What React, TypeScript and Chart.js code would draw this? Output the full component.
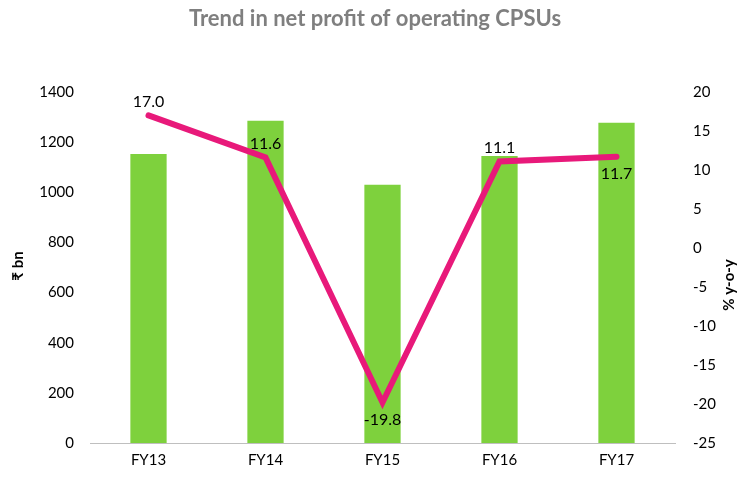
import React, { useEffect, useRef } from "react";
import { Chart, registerables } from "chart.js";

Chart.register(...registerables);

const categories = ["FY13", "FY14", "FY15", "FY16", "FY17"];
const netProfit = [1153, 1285, 1030, 1145, 1277];
const yoyGrowth = [17.0, 11.6, -19.8, 11.1, 11.7];
const yoyLabelPos = ["above", "above", "below", "above", "below"];

const FONT = "Lato, 'Open Sans', sans-serif";

const overlayPlugin = {
  id: "overlay",
  afterDraw(chart: any) {
    const ctx = chart.ctx;
    ctx.save();
    // title
    ctx.fillStyle = "#7f7f7f";
    ctx.font = `bold 22px ${FONT}`;
    ctx.textAlign = "center";
    ctx.textBaseline = "middle";
    ctx.fillText("Trend in net profit of operating CPSUs", 375, 19);
    // axis titles
    ctx.fillStyle = "#000";
    ctx.font = `bold 15px ${FONT}`;
    ctx.save();
    ctx.translate(18, 266);
    ctx.rotate(-Math.PI / 2);
    ctx.fillText("₹ bn", 0, 0);
    ctx.restore();
    ctx.save();
    ctx.translate(729, 285);
    ctx.rotate(-Math.PI / 2);
    ctx.fillText("% y-o-y", 0, 0);
    ctx.restore();
    // data labels
    const meta = chart.getDatasetMeta(1);
    ctx.font = `16px ${FONT}`;
    ctx.fillStyle = "#000";
    meta.data.forEach((pt: any, i: number) => {
      const v = yoyGrowth[i];
      const dy = yoyLabelPos[i] === "above" ? -14 : 17;
      ctx.fillText(v.toFixed(1), pt.x, pt.y + dy);
    });
    ctx.restore();
  },
};

export default function App() {
  const ref = useRef<HTMLCanvasElement>(null);
  useEffect(() => {
    document.body.style.margin = "0";
    const chart = new Chart(ref.current!, {
      type: "bar",
      data: {
        labels: categories,
        datasets: [
          {
            type: "bar",
            label: "Net profit",
            data: netProfit,
            backgroundColor: "#7ED13D",
            yAxisID: "y",
            barPercentage: 0.31,
            categoryPercentage: 1,
            order: 2,
          },
          {
            type: "line",
            label: "% y-o-y",
            data: yoyGrowth,
            borderColor: "#E8197A",
            backgroundColor: "#E8197A",
            borderWidth: 6,
            pointRadius: 0,
            yAxisID: "y1",
            order: 1,
            borderCapStyle: "round",
          } as any,
        ],
      },
      options: {
        responsive: false,
        animation: false,
        layout: { padding: { top: 92, bottom: 2, left: 0, right: 0 } },
        plugins: { legend: { display: false }, tooltip: { enabled: false } },
        scales: {
          x: {
            grid: { display: false, drawTicks: false },
            border: { color: "#bfbfbf" },
            ticks: { color: "#000", font: { family: FONT, size: 15 }, padding: 8 },
          },
          y: {
            position: "left",
            min: 0,
            max: 1400,
            grid: { display: false, drawTicks: false },
            border: { display: false },
            ticks: {
              stepSize: 200,
              color: "#000",
              font: { family: FONT, size: 15 },
              padding: 16,
              callback: (v: any) => String(v),
            },
            afterFit(scale: any) {
              scale.width = 90;
            },
          },
          y1: {
            position: "right",
            min: -25,
            max: 20,
            grid: { display: false, drawTicks: false },
            border: { display: false },
            ticks: {
              stepSize: 5,
              color: "#000",
              font: { family: FONT, size: 15 },
              padding: 18,
              callback: (v: any) => String(v),
            },
            afterFit(scale: any) {
              scale.width = 62;
            },
          },
        },
      },
      plugins: [overlayPlugin],
    });
    return () => chart.destroy();
  }, []);
  return <canvas ref={ref} width={737} height={479} style={{ display: "block" }} />;
}
